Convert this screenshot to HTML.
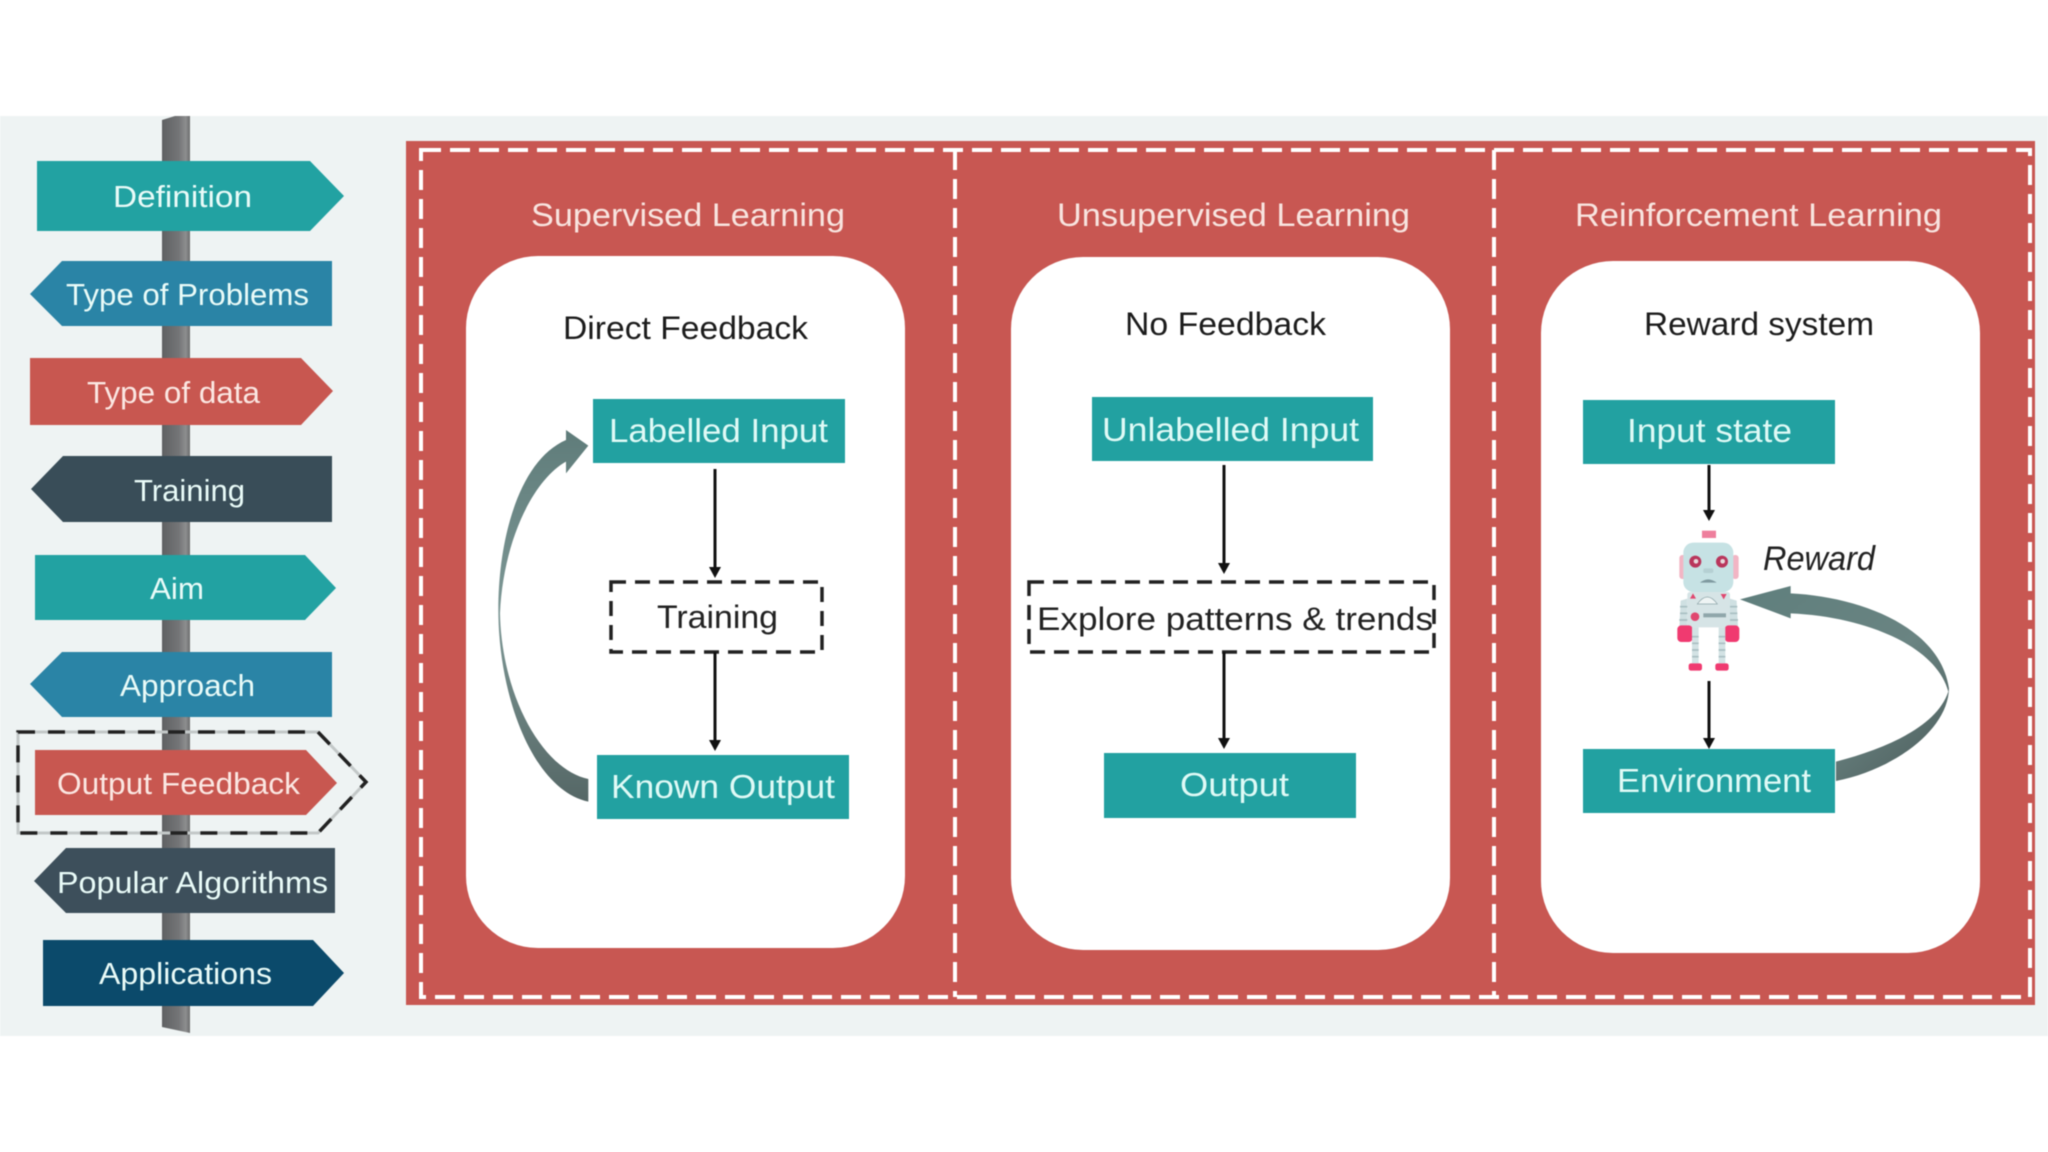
<!DOCTYPE html>
<html>
<head>
<meta charset="utf-8">
<style>
html,body{margin:0;padding:0;background:#fff;width:2048px;height:1152px;overflow:hidden}
svg{display:block;filter:blur(.5px)}
text{font-family:"Liberation Sans",sans-serif}
.s{font-size:31px;fill:#e9fbf8}
.r{font-size:31px;fill:#fbe7e2}
.h{font-size:32px;fill:#f8e4df}
.k{font-size:32px;fill:#1c1c1c}
.b{font-size:33px;fill:#dffaf6}
.d{font-size:32px;fill:#222}
</style>
</head>
<body>
<svg width="2048" height="1152" viewBox="0 0 2048 1152" xmlns="http://www.w3.org/2000/svg">
<defs>
<linearGradient id="post" x1="0" x2="1" y1="0" y2="0">
<stop offset="0" stop-color="#5f6163"/><stop offset=".6" stop-color="#747577"/><stop offset=".85" stop-color="#8d8e8f"/><stop offset="1" stop-color="#6c6d6e"/>
</linearGradient>
<linearGradient id="arrR" x1="0" x2="1" y1="0" y2="1">
<stop offset="0" stop-color="#5f7f7d"/><stop offset=".55" stop-color="#6a8482"/><stop offset="1" stop-color="#4c5c5b"/>
</linearGradient>
<linearGradient id="arrL" x1="0" x2="0" y1="0" y2="1">
<stop offset="0" stop-color="#5f7c7a"/><stop offset=".5" stop-color="#7e9896"/><stop offset="1" stop-color="#556766"/>
</linearGradient>
</defs>

<rect x="0" y="116" width="2048" height="920" fill="#eef3f3"/>
<polygon points="162,120 175,116 190,116 190,1033 162,1027" fill="url(#post)"/>

<polygon points="37,161 310,161 344,196 310,231 37,231" fill="#22a2a2"/>
<polygon points="30,294 62,261 332,261 332,326 62,326" fill="#2a84a6"/>
<polygon points="30,358 301,358 333,391 301,425 30,425" fill="#c85750"/>
<polygon points="31,489 63,456 332,456 332,522 63,522" fill="#394d58"/>
<polygon points="35,555 305,555 336,588 305,620 35,620" fill="#22a2a2"/>
<polygon points="30,684 62,652 332,652 332,717 62,717" fill="#2a84a6"/>
<polygon points="35,750 306,750 337,783 306,815 35,815" fill="#c85750"/>
<polygon points="18,732 318,732 366,782 318,833 18,833" fill="none" stroke="#c3c8c8" stroke-width="3"/>
<polygon points="18,732 318,732 366,782 318,833 18,833" fill="none" stroke="#222" stroke-width="3.5" stroke-dasharray="17 13"/>
<polygon points="34,881 66,848 335,848 335,913 66,913" fill="#3d4f5b"/>
<polygon points="43,940 313,940 344,973 313,1006 43,1006" fill="#0b4a6b"/>

<text class="s" x="113" y="207" textLength="139" lengthAdjust="spacingAndGlyphs">Definition</text>
<text class="s" x="66" y="305" textLength="243" lengthAdjust="spacingAndGlyphs">Type of Problems</text>
<text class="r" x="87" y="403" textLength="173" lengthAdjust="spacingAndGlyphs">Type of data</text>
<text class="s" x="134" y="501" textLength="111" lengthAdjust="spacingAndGlyphs">Training</text>
<text class="s" x="150" y="599" textLength="54" lengthAdjust="spacingAndGlyphs">Aim</text>
<text class="s" x="120" y="696" textLength="135" lengthAdjust="spacingAndGlyphs">Approach</text>
<text class="r" x="57" y="794" textLength="243" lengthAdjust="spacingAndGlyphs">Output Feedback</text>
<text class="s" x="57" y="893" textLength="271" lengthAdjust="spacingAndGlyphs">Popular Algorithms</text>
<text class="s" x="99" y="984" textLength="173" lengthAdjust="spacingAndGlyphs">Applications</text>

<rect x="406" y="141" width="1629" height="864" fill="#c85752"/>
<rect x="421" y="150" width="1609" height="847" fill="none" stroke="#fff" stroke-width="4" stroke-dasharray="20 9"/>
<line x1="955" y1="150" x2="955" y2="997" stroke="#fff" stroke-width="4" stroke-dasharray="20 9"/>
<line x1="1494" y1="150" x2="1494" y2="997" stroke="#fff" stroke-width="4" stroke-dasharray="20 9"/>

<text class="h" x="531" y="226" textLength="314" lengthAdjust="spacingAndGlyphs">Supervised Learning</text>
<text class="h" x="1057" y="226" textLength="353" lengthAdjust="spacingAndGlyphs">Unsupervised Learning</text>
<text class="h" x="1575" y="226" textLength="367" lengthAdjust="spacingAndGlyphs">Reinforcement Learning</text>

<rect x="466" y="256" width="439" height="692" rx="72" ry="72" fill="#fff"/>
<rect x="1011" y="257" width="439" height="693" rx="72" ry="72" fill="#fff"/>
<rect x="1541" y="261" width="439" height="692" rx="72" ry="72" fill="#fff"/>

<text class="k" x="563" y="339" textLength="245" lengthAdjust="spacingAndGlyphs">Direct Feedback</text>
<text class="k" x="1125" y="335" textLength="201" lengthAdjust="spacingAndGlyphs">No Feedback</text>
<text class="k" x="1644" y="335" textLength="230" lengthAdjust="spacingAndGlyphs">Reward system</text>

<!-- column 1 -->
<rect x="593" y="399" width="252" height="64" fill="#22a1a1"/>
<rect x="597" y="755" width="252" height="64" fill="#22a1a1"/>
<rect x="611" y="582" width="211" height="70" fill="none" stroke="#222" stroke-width="3.5" stroke-dasharray="15 9"/>
<text class="b" x="609" y="442" textLength="219" lengthAdjust="spacingAndGlyphs">Labelled Input</text>
<text class="d" x="657" y="628" textLength="121" lengthAdjust="spacingAndGlyphs">Training</text>
<text class="b" x="611" y="798" textLength="224" lengthAdjust="spacingAndGlyphs">Known Output</text>
<line x1="715" y1="469" x2="715" y2="570" stroke="#111" stroke-width="3"/>
<polygon points="709,567 721,567 715,578" fill="#111"/>
<line x1="715" y1="652" x2="715" y2="743" stroke="#111" stroke-width="3"/>
<polygon points="709,740 721,740 715,751" fill="#111"/>
<path transform="translate(470,380) scale(.3333)" d="M355 197 L288 150 L288 180 C150 240 85 470 85 690 C85 950 190 1230 355 1265 L355 1197 C220 1170 95 950 90 700 C100 480 190 300 288 245 L288 280 Z" fill="url(#arrL)"/>

<!-- column 2 -->
<rect x="1092" y="397" width="281" height="64" fill="#22a1a1"/>
<rect x="1104" y="753" width="252" height="65" fill="#22a1a1"/>
<rect x="1029" y="582" width="405" height="70" fill="none" stroke="#222" stroke-width="3.5" stroke-dasharray="15 9"/>
<text class="b" x="1102" y="441" textLength="257" lengthAdjust="spacingAndGlyphs">Unlabelled Input</text>
<text class="d" x="1037" y="630" textLength="396" lengthAdjust="spacingAndGlyphs">Explore patterns &amp; trends</text>
<text class="b" x="1180" y="796" textLength="109" lengthAdjust="spacingAndGlyphs">Output</text>
<line x1="1224" y1="465" x2="1224" y2="566" stroke="#111" stroke-width="3"/>
<polygon points="1218,563 1230,563 1224,574" fill="#111"/>
<line x1="1224" y1="652" x2="1224" y2="741" stroke="#111" stroke-width="3"/>
<polygon points="1218,738 1230,738 1224,749" fill="#111"/>

<!-- column 3 -->
<rect x="1583" y="400" width="252" height="64" fill="#22a1a1"/>
<rect x="1583" y="749" width="252" height="64" fill="#22a1a1"/>
<text class="b" x="1627" y="442" textLength="165" lengthAdjust="spacingAndGlyphs">Input state</text>
<text class="b" x="1617" y="792" textLength="194" lengthAdjust="spacingAndGlyphs">Environment</text>
<text x="1763" y="570" font-size="34" font-style="italic" fill="#222" textLength="112" lengthAdjust="spacingAndGlyphs">Reward</text>
<line x1="1709" y1="465" x2="1709" y2="514" stroke="#111" stroke-width="3"/>
<polygon points="1703,510 1715,510 1709,521" fill="#111"/>
<line x1="1709" y1="681" x2="1709" y2="741" stroke="#111" stroke-width="3"/>
<polygon points="1703,738 1715,738 1709,749" fill="#111"/>

<g transform="translate(1620,500) scale(.3333)">
<path d="M360 298 L512 258 L512 280 C720 290 960 380 987 565 C985 690 820 810 648 843 L648 785 C800 745 950 680 985 575 C950 440 740 350 512 340 L512 355 Z" fill="url(#arrR)"/>
<!-- robot -->
<rect x="246" y="92" width="42" height="22" fill="#ee7f9d"/>
<rect x="178" y="165" width="20" height="72" rx="9" fill="#f2b5c4"/>
<rect x="336" y="165" width="20" height="72" rx="9" fill="#f2b5c4"/>
<rect x="190" y="128" width="150" height="148" rx="30" fill="#c6e2e4"/>
<circle cx="226" cy="185" r="18" fill="#b9365c"/><circle cx="306" cy="185" r="18" fill="#b9365c"/>
<circle cx="228" cy="184" r="7" fill="#e8d8dc"/><circle cx="308" cy="184" r="7" fill="#e8d8dc"/>
<rect x="250" y="205" width="30" height="14" rx="5" fill="#b5d0d3"/>
<path d="M240 248 Q264 228 290 248 Z" fill="#7f9aa0"/>
<rect x="202" y="276" width="128" height="106" rx="8" fill="#d6e4e6"/>
<path d="M232 312 Q262 270 292 312 Z" fill="#eef4f4" stroke="#8fa6aa" stroke-width="2"/>
<polygon points="210,296 228,296 219,280" fill="#e0476f"/>
<polygon points="302,282 320,282 311,298" fill="#e0476f"/>
<circle cx="225" cy="350" r="13" fill="#e0476f"/>
<rect x="250" y="340" width="68" height="12" fill="#8fa6aa"/>
<polygon points="182,302 202,296 202,380 178,380" fill="#cfe0e2"/>
<polygon points="330,296 350,302 354,380 330,380" fill="#cfe0e2"/>
<path d="M180 320H202M180 340H202M178 360H202M330 320H352M330 340H352M330 360H354" stroke="#a9bfc2" stroke-width="5"/>
<rect x="172" y="376" width="46" height="50" rx="12" fill="#f03a70"/>
<rect x="314" y="376" width="44" height="50" rx="12" fill="#f03a70"/>
<rect x="216" y="382" width="20" height="110" fill="#d3e2e4"/>
<rect x="296" y="382" width="20" height="110" fill="#d3e2e4"/>
<path d="M216 410H236M216 430H236M216 450H236M216 470H236M296 410H316M296 430H316M296 450H316M296 470H316" stroke="#a9bfc2" stroke-width="5"/>
<rect x="206" y="490" width="40" height="22" rx="7" fill="#f03a70"/>
<rect x="286" y="490" width="40" height="22" rx="7" fill="#f03a70"/>
</g>
</svg>
</body>
</html>
